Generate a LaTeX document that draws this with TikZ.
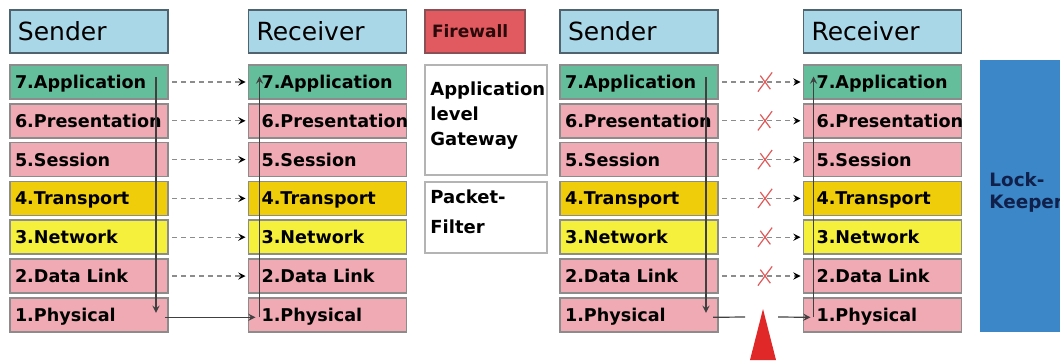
\documentclass[tikz,border=0pt]{standalone}
\usepackage{fontspec}
\setmainfont{DejaVu Sans}
\usepackage{tikz}
\usetikzlibrary{positioning}
\usetikzlibrary{shapes.misc}

\definecolor{hdblue}{HTML}{AAD7E8}
\definecolor{hdline}{HTML}{506470}
\definecolor{appg}{HTML}{64BE9B}
\definecolor{pinkl}{HTML}{F0AAB4}
\definecolor{trans}{HTML}{F0CD0A}
\definecolor{netw}{HTML}{F5F03C}
\definecolor{layline}{HTML}{8C8C8C}
\definecolor{fwred}{HTML}{E15A5F}
\definecolor{fwline}{HTML}{8A5055}
\definecolor{fwtext}{HTML}{2A0A0A}
\definecolor{gwline}{HTML}{B4B4B4}
\definecolor{lkblue}{HTML}{3C87C8}
\definecolor{lktext}{HTML}{10204A}
\definecolor{dashgray}{HTML}{8C8C8C}
\definecolor{vgray}{HTML}{404040}
\definecolor{xred}{HTML}{E05A5A}
\definecolor{trired}{HTML}{E02828}

\newcommand{\layerfont}{\fontsize{8.8}{11}\selectfont\bfseries\hyphenpenalty=10000\relax}

\begin{document}
\begin{tikzpicture}[->,>=stealth,x=0.5pt,y=0.5pt,node distance=2.4pt]
\tikzstyle{hd}=[-,draw=hdline,fill=hdblue,line width=0.8pt,outer sep=0pt,minimum width=79pt,minimum height=21.5pt,text width=71pt,inner xsep=4pt,align=left,font=\fontsize{12.5}{14}\selectfont,text height=8.9pt,text depth=0pt]
\tikzstyle{lay}=[-,draw=layline,line width=0.8pt,outer sep=0pt,minimum width=79pt,minimum height=17pt,text width=74pt,inner xsep=2.5pt,align=left,font=\layerfont,text height=6.4pt,text depth=0pt]
\tikzstyle{rlay}=[lay,text width=76pt,inner xsep=1.5pt,execute at begin node={\hspace*{5pt}}]
\tikzstyle{fw}=[-,draw=fwline,fill=fwred,line width=0.8pt,outer sep=0pt,minimum width=50pt,minimum height=21.5pt,text width=43pt,inner xsep=3.5pt,align=left,font=\fontsize{8.5}{10}\selectfont\bfseries,text=fwtext,text height=6.2pt,text depth=0pt]
\tikzstyle{gw}=[-,draw=gwline,fill=white,line width=0.8pt,outer sep=0pt,minimum width=61pt]
\tikzstyle{gwtxt}=[anchor=north west,inner sep=0pt,xshift=2.5pt,align=left,font=\fontsize{9}{12.5}\selectfont\bfseries]
\tikzstyle{dsh}=[draw=dashgray,dash pattern=on 2.5pt off 2pt,line width=0.6pt,shorten <=2pt,shorten >=1.5pt]
\tikzstyle{xmark}=[solid,cross out,draw=xred,line width=0.6pt,minimum width=6.5pt,minimum height=9pt,inner sep=0pt,pos=0.55]
\tikzstyle{vl}=[draw=vgray,line width=0.6pt]

\useasboundingbox (0,0) rectangle (1060,360);

% left pair
\node[hd]	(SA)	at (89,328.5)		{Sender};
\node[lay,fill=appg]	(SA7)	[below=6pt of SA]	{7.Application};
\node[lay,fill=pinkl]	(SA6)	[below=of SA7]		{6.Presentation};
\node[lay,fill=pinkl]	(SA5)	[below=of SA6]		{5.Session};
\node[lay,fill=trans]	(SA4)	[below=of SA5]		{4.Transport};
\node[lay,fill=netw]	(SA3)	[below=of SA4]		{3.Network};
\node[lay,fill=pinkl]	(SA2)	[below=of SA3]		{2.Data Link};
\node[lay,fill=pinkl]	(SA1)	[below=of SA2]		{1.Physical};

\node[hd]	(RA)	at (327.5,328.5)	{Receiver};
\node[rlay,fill=appg]	(RA7)	[below=6pt of RA]	{7.Application};
\node[rlay,fill=pinkl]	(RA6)	[below=of RA7]		{6.Presentation};
\node[rlay,fill=pinkl]	(RA5)	[below=of RA6]		{5.Session};
\node[rlay,fill=trans]	(RA4)	[below=of RA5]		{4.Transport};
\node[rlay,fill=netw]	(RA3)	[below=of RA4]		{3.Network};
\node[rlay,fill=pinkl]	(RA2)	[below=of RA3]		{2.Data Link};
\node[rlay,fill=pinkl]	(RA1)	[below=of RA2]		{1.Physical};

% firewall types
\node[fw]	(FW)	at (475,328.5)		{Firewall};
\node[gw,minimum height=55pt,label={[gwtxt,yshift=-8pt]north west:Application\\level\\Gateway}]
	(ALG)	[below right=6pt and 0pt of FW.south west]	{};
\node[gw,minimum height=35.5pt,label={[gwtxt,yshift=-3.5pt,font=\fontsize{9}{15}\selectfont\bfseries]north west:Packet-\\Filter}]
	(PF)	[below right=3.5pt and 0pt of ALG.south west]	{};

% right pair
\node[hd]	(SB)	at (639,328.5)		{Sender};
\node[lay,fill=appg]	(SB7)	[below=6pt of SB]	{7.Application};
\node[lay,fill=pinkl]	(SB6)	[below=of SB7]		{6.Presentation};
\node[lay,fill=pinkl]	(SB5)	[below=of SB6]		{5.Session};
\node[lay,fill=trans]	(SB4)	[below=of SB5]		{4.Transport};
\node[lay,fill=netw]	(SB3)	[below=of SB4]		{3.Network};
\node[lay,fill=pinkl]	(SB2)	[below=of SB3]		{2.Data Link};
\node[lay,fill=pinkl]	(SB1)	[below=of SB2]		{1.Physical};

\node[hd]	(RB)	at (882.5,328.5)	{Receiver};
\node[rlay,fill=appg]	(RB7)	[below=6pt of RB]	{7.Application};
\node[rlay,fill=pinkl]	(RB6)	[below=of RB7]		{6.Presentation};
\node[rlay,fill=pinkl]	(RB5)	[below=of RB6]		{5.Session};
\node[rlay,fill=trans]	(RB4)	[below=of RB5]		{4.Transport};
\node[rlay,fill=netw]	(RB3)	[below=of RB4]		{3.Network};
\node[rlay,fill=pinkl]	(RB2)	[below=of RB3]		{2.Data Link};
\node[rlay,fill=pinkl]	(RB1)	[below=of RB2]		{1.Physical};

\node[-,fill=lkblue,outer sep=0pt,minimum width=40pt,minimum height=136pt,inner sep=0pt,
	label={[anchor=west,inner sep=0pt,xshift=4.5pt,yshift=2pt,align=left,text=lktext,font=\fontsize{9.2}{11}\selectfont\bfseries]west:Lock-\\Keeper}]
	(LK)	at (1020,164)	{};

% peer layers
\path[dsh]	(SA7)	edge	(RA7)
	(SA6)	edge	(RA6)
	(SA5)	edge	(RA5)
	(SA4)	edge	(RA4)
	(SA3)	edge	(RA3)
	(SA2)	edge	(RA2);
\path[dsh]	(SB7)	edge	node[xmark]	{}	(RB7)
	(SB6)	edge	node[xmark]	{}	(RB6)
	(SB5)	edge	node[xmark]	{}	(RB5)
	(SB4)	edge	node[xmark]	{}	(RB4)
	(SB3)	edge	node[xmark]	{}	(RB3)
	(SB2)	edge	node[xmark]	{}	(RB2);

% real data path
\draw[vl] ([xshift=-6pt,yshift=2.5pt]SA7.east) -- ([xshift=-6pt,yshift=1pt]SA1.east);
\draw[vl] ([xshift=-1.5pt,yshift=-1.25pt]SA1.east) -- ([xshift=3.5pt,yshift=-1.25pt]RA1.west);
\draw[vl] ([xshift=5.5pt,yshift=-1.25pt]RA1.west) -- ([xshift=5.5pt,yshift=2.75pt]RA7.west);

\coordinate (gapL) at (745,43);
\coordinate (gapR) at (778,43);
\draw[vl] ([xshift=-6pt,yshift=2.5pt]SB7.east) -- ([xshift=-6pt,yshift=1pt]SB1.east);
\draw[vl,-] ([xshift=-2.5pt,yshift=-1.25pt]SB1.east) -- (gapL);
\draw[vl] (gapR) -- ([xshift=3.5pt,yshift=-1.25pt]RB1.west);
\draw[vl] ([xshift=5pt,yshift=-1.25pt]RB1.west) -- ([xshift=5pt,yshift=2.75pt]RB7.west);

\fill[-,trired] (750,0) -- (763,51) -- (776,0) -- cycle;
\end{tikzpicture}
\end{document}
